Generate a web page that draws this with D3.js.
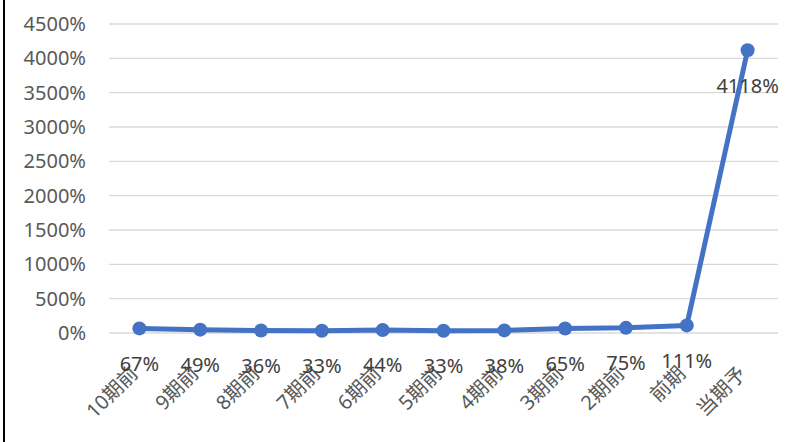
<!DOCTYPE html>
<html><head><meta charset="utf-8">
<script src="https://cdn.jsdelivr.net/npm/d3@7"></script>
<style>body{margin:0;background:#fff;} svg{display:block;}</style>
</head><body>
<svg id="chart" width="795" height="442"></svg>
<script>
const categories = ["10期前","9期前","8期前","7期前","6期前","5期前","4期前","3期前","2期前","前期","当期予"];
const values = [67,49,36,33,44,33,38,65,75,111,4118];
const yTicks = [0,500,1000,1500,2000,2500,3000,3500,4000,4500];

(function(){
const svg = d3.select("#chart");
const W = 795, H = 442;
const mLeft = 109, mRight = 778, mTop = 24, mBottom = 333;
const font = "'Noto Sans', 'Noto Sans CJK JP', sans-serif";

svg.append("rect").attr("width",W).attr("height",H).attr("fill","#fff");
svg.append("line").attr("x1",4).attr("x2",4).attr("y1",0).attr("y2",H)
  .attr("stroke","#000").attr("stroke-width",2);

const x = d3.scaleBand().domain(categories).range([mLeft,mRight]).padding(0);
const y = d3.scaleLinear().domain([0,4500]).range([mBottom,mTop]);

svg.append("g").selectAll("line").data(yTicks).join("line")
  .attr("x1",mLeft).attr("x2",mRight)
  .attr("y1",d=>y(d)).attr("y2",d=>y(d))
  .attr("stroke","#d9d9d9").attr("stroke-width",1.3);

const yAxis = d3.axisLeft(y).tickValues(yTicks).tickSize(0).tickPadding(0).tickFormat(d=>d+"%");
const gy = svg.append("g").attr("transform",`translate(${86},0)`).call(yAxis);
gy.select(".domain").remove();
gy.selectAll("text").attr("font-family",font).attr("font-size",20).attr("fill","#595959");

const xAxis = d3.axisBottom(x).tickSize(0).tickPadding(0);
const gx = svg.append("g").attr("transform",`translate(0,${mBottom})`).call(xAxis);
gx.select(".domain").remove();
gx.selectAll("text")
  .attr("font-family",font).attr("font-size",20).attr("fill","#595959")
  .attr("text-anchor","end").attr("dy",null).attr("y",0)
  .attr("transform","translate(-4,38) rotate(-45)")
  .attr("dominant-baseline","middle");

const cx = d => x(d) + x.bandwidth()/2;
const line = d3.line().x((d,i)=>cx(categories[i])).y(d=>y(d));
svg.append("path").datum(values).attr("d",line)
  .attr("fill","none").attr("stroke","#4472C4").attr("stroke-width",5)
  .attr("stroke-linejoin","round");

svg.append("g").selectAll("circle").data(values).join("circle")
  .attr("cx",(d,i)=>cx(categories[i])).attr("cy",d=>y(d)).attr("r",7)
  .attr("fill","#4472C4");

svg.append("g").selectAll("text").data(values).join("text")
  .attr("x",(d,i)=>cx(categories[i])).attr("y",d=>y(d)+35)
  .attr("text-anchor","middle").attr("dominant-baseline","central")
  .attr("font-family",font).attr("font-size",20).attr("fill","#404040")
  .text(d=>d+"%");
})();
</script>
</body></html>
